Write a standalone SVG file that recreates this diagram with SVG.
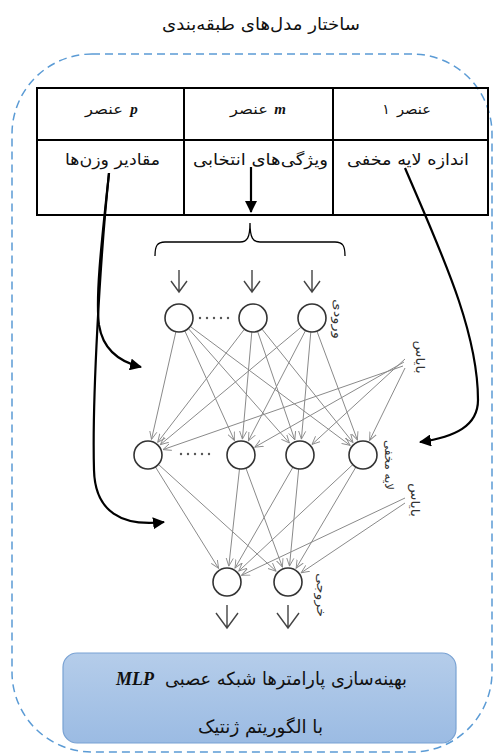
<svg xmlns="http://www.w3.org/2000/svg" width="498" height="756" viewBox="0 0 498 756">
<style>
.fa{font-family:"DejaVu Sans","Noto Sans",sans-serif;fill:#111}
.lat{font-family:"Liberation Serif",serif;font-weight:bold;font-style:italic;fill:#111}
.cell{fill:none;stroke:#000;stroke-width:2}
.blk{fill:none;stroke:#000;stroke-width:2.2}
.nn{fill:none;stroke:#8a8a8a;stroke-width:1}
.node{fill:#fff;stroke:#333;stroke-width:1.6}
.io{fill:none;stroke:#444;stroke-width:1.4}
.dot{fill:#555}
.vl{font-family:"DejaVu Sans",sans-serif;font-size:12px;fill:#333}
</style>
<defs>
<marker id="ah" viewBox="0 0 12 12" refX="11" refY="6" markerWidth="12" markerHeight="12" markerUnits="userSpaceOnUse" orient="auto">
<path d="M0,0 L12,6 L0,12 Z" fill="#000"/>
</marker>
<marker id="oa" viewBox="0 0 10 10" refX="9" refY="5" markerWidth="9" markerHeight="9" markerUnits="userSpaceOnUse" orient="auto">
<path d="M0,1 L9,5 L0,9" fill="none" stroke="#8a8a8a" stroke-width="1"/>
</marker>
<linearGradient id="bg" x1="0" y1="0" x2="0" y2="1">
<stop offset="0" stop-color="#b5cdea"/>
<stop offset="1" stop-color="#9bbbe3"/>
</linearGradient>
</defs>
<rect width="498" height="756" fill="#fff"/>

<g id="title">
<text class="fa" x="261" y="30" font-size="17" text-anchor="middle" textLength="198" lengthAdjust="spacingAndGlyphs">ساختار مدل‌های طبقه‌بندی</text>
</g>

<g id="frame">
<rect x="12" y="54" width="480" height="698" rx="80" ry="80" fill="none" stroke="#5b9bd5" stroke-width="1.5" stroke-dasharray="8,5"/>
</g>

<g id="table">
<rect class="cell" x="37" y="88" width="451" height="127"/>
<line class="cell" x1="37" y1="140" x2="488" y2="140"/>
<line class="cell" x1="184" y1="88" x2="184" y2="215"/>
<line class="cell" x1="333" y1="88" x2="333" y2="215"/>
<text class="fa" x="104" y="114" font-size="14" text-anchor="middle" textLength="38" lengthAdjust="spacingAndGlyphs">عنصر</text>
<text class="lat" x="134" y="114" font-size="15" text-anchor="middle">p</text>
<text class="fa" x="249" y="114" font-size="14" text-anchor="middle" textLength="38" lengthAdjust="spacingAndGlyphs">عنصر</text>
<text class="lat" x="280" y="114" font-size="15" text-anchor="middle">m</text>
<text class="fa" x="414" y="114" font-size="14" text-anchor="middle" textLength="34" lengthAdjust="spacingAndGlyphs">عنصر</text>
<text class="fa" x="386" y="114" font-size="14" text-anchor="middle">۱</text>
<text class="fa" x="112.5" y="165" font-size="16" text-anchor="middle" textLength="95" lengthAdjust="spacingAndGlyphs">مقادیر وزن‌ها</text>
<text class="fa" x="260.5" y="165" font-size="16" text-anchor="middle" textLength="135" lengthAdjust="spacingAndGlyphs">ویژگی‌های انتخابی</text>
<text class="fa" x="408" y="165" font-size="16" text-anchor="middle" textLength="122" lengthAdjust="spacingAndGlyphs">اندازه لایه مخفی</text>
</g>

<g id="brace">
<path d="M155,256 C155,246 157,242 165,242 L240,242 C247,242 250,238 250,223 C250,238 253,242 260,242 L335,242 C343,242 345,246 345,256" fill="none" stroke="#000" stroke-width="1.3"/>
</g>

<g id="connectors">
<path class="blk" d="M251,167 L251,212" marker-end="url(#ah)"/>
<path class="blk" d="M109,173 C103,230 95,295 99,325 C103,350 120,362 141,367" marker-end="url(#ah)"/>
<path class="blk" d="M109,173 C100,260 92,400 94,470 C95,512 122,527 164,522" marker-end="url(#ah)"/>
<path class="blk" d="M405,168 C440,250 478,330 478,400 C478,426 455,437 420,442" marker-end="url(#ah)"/>
</g>

<g id="network">
<g id="inputs-arrows" class="io">
<path d="M179,270 L179,292 M171,281 L179,292 L187,281"/>
<path d="M252,270 L252,292 M244,281 L252,292 L260,281"/>
<path d="M312,270 L312,292 M304,281 L312,292 L320,281"/>
</g>
<g id="weights" class="nn" marker-end="url(#oa)">
<line x1="175.9" y1="331.7" x2="151.5" y2="439.4"/>
<line x1="184.8" y1="330.8" x2="234.4" y2="440.4"/>
<line x1="188.3" y1="328.5" x2="289.4" y2="443.0"/>
<line x1="190.2" y1="326.4" x2="350.2" y2="445.4"/>
<line x1="244.5" y1="329.1" x2="157.7" y2="442.3"/>
<line x1="251.8" y1="332.0" x2="242.4" y2="439.1"/>
<line x1="257.5" y1="331.2" x2="294.8" y2="439.9"/>
<line x1="261.8" y1="328.9" x2="353.0" y2="442.5"/>
<line x1="301.3" y1="327.0" x2="160.3" y2="444.7"/>
<line x1="305.6" y1="330.4" x2="248.4" y2="440.8"/>
<line x1="310.8" y1="332.0" x2="301.4" y2="439.1"/>
<line x1="316.9" y1="331.1" x2="357.4" y2="440.0"/>
<line x1="403" y1="366" x2="163.0" y2="449.6"/>
<line x1="404" y1="362" x2="254.9" y2="447.1"/>
<line x1="405" y1="359" x2="312.0" y2="444.4"/>
<line x1="405" y1="368" x2="369.6" y2="440.4"/>
<line x1="155.4" y1="466.9" x2="218.6" y2="568.4"/>
<line x1="158.4" y1="464.4" x2="276.1" y2="571.2"/>
<line x1="239.5" y1="468.9" x2="228.8" y2="566.1"/>
<line x1="245.9" y1="468.1" x2="282.4" y2="567.0"/>
<line x1="293.0" y1="467.1" x2="235.0" y2="568.1"/>
<line x1="298.7" y1="468.9" x2="289.5" y2="566.1"/>
<line x1="352.8" y1="464.6" x2="238.7" y2="571.1"/>
<line x1="355.9" y1="467.1" x2="296.1" y2="568.2"/>
<line x1="405" y1="498" x2="241.5" y2="575.3"/>
<line x1="405" y1="503" x2="301.1" y2="572.8"/>
</g>
<g id="input-layer">
<circle class="node" cx="179" cy="318" r="14"/>
<circle class="node" cx="253" cy="318" r="14"/>
<circle class="node" cx="312" cy="318" r="14"/>
<circle class="dot" cx="200" cy="318" r="1.2"/><circle class="dot" cx="207" cy="318" r="1.2"/><circle class="dot" cx="214" cy="318" r="1.2"/><circle class="dot" cx="221" cy="318" r="1.2"/><circle class="dot" cx="228" cy="318" r="1.2"/>
</g>
<g id="hidden-layer">
<circle class="node" cx="148" cy="455" r="14"/>
<circle class="node" cx="241" cy="455" r="14"/>
<circle class="node" cx="300" cy="455" r="14"/>
<circle class="node" cx="363" cy="455" r="14"/>
<circle class="dot" cx="181" cy="454" r="1.2"/><circle class="dot" cx="188" cy="454" r="1.2"/><circle class="dot" cx="195" cy="454" r="1.2"/><circle class="dot" cx="202" cy="454" r="1.2"/><circle class="dot" cx="209" cy="454" r="1.2"/>
</g>
<g id="output-layer">
<circle class="node" cx="227" cy="582" r="14"/>
<circle class="node" cx="288" cy="582" r="14"/>
</g>
<g id="outputs-arrows" class="io">
<path d="M227,605 L227,628 M216,613 L227,628 L238,613"/>
<path d="M288,605 L288,628 M277,613 L288,628 L299,613"/>
</g>
<g id="layer-labels">
<text class="vl" transform="translate(334,319) rotate(90)" text-anchor="middle" textLength="40" lengthAdjust="spacingAndGlyphs">ورودی</text>
<text class="vl" transform="translate(416,357) rotate(90)" text-anchor="middle" textLength="33" lengthAdjust="spacingAndGlyphs">بایاس</text>
<text class="vl" transform="translate(385,465) rotate(90)" text-anchor="middle" textLength="50" lengthAdjust="spacingAndGlyphs">لایه مخفی</text>
<text class="vl" transform="translate(411,500) rotate(90)" text-anchor="middle" textLength="34" lengthAdjust="spacingAndGlyphs">بایاس</text>
<text class="vl" transform="translate(317,595) rotate(90)" text-anchor="middle" textLength="44" lengthAdjust="spacingAndGlyphs">خروجی</text>
</g>
</g>

<g id="result">
<rect x="63" y="653" width="393" height="90" rx="14" ry="14" fill="url(#bg)" stroke="#79a2d3" stroke-width="1.2"/>
<text class="fa" x="407" y="685" font-size="18" text-anchor="end" textLength="242" lengthAdjust="spacingAndGlyphs">بهینه‌سازی پارامترها شبکه عصبی</text>
<text class="lat" x="135" y="685" font-size="18" text-anchor="middle">MLP</text>
<text class="fa" x="260.5" y="733" font-size="18" text-anchor="middle" textLength="125" lengthAdjust="spacingAndGlyphs">با الگوریتم ژنتیک</text>
</g>
</svg>
